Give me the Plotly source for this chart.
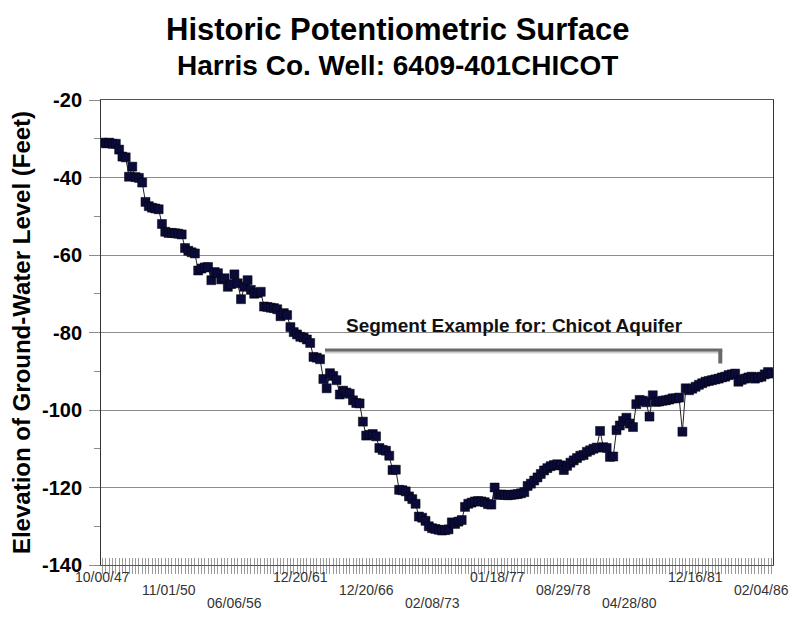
import plotly.graph_objects as go

# ---- data ----
levels = [
    -31.0, -31.2, -31.0, -31.3, -31.3, -32.8, -34.6, -34.8, -39.8, -37.2,
    -39.9, -40.1, -41.3, -46.3, -47.4, -47.8, -48.0, -48.2, -52.0, -54.0,
    -54.3, -54.3, -54.4, -54.5, -54.7, -58.2, -58.9, -59.3, -59.6, -64.0,
    -63.5, -63.2, -63.1, -66.5, -64.4, -64.7, -66.3, -66.0, -68.2, -67.5,
    -65.0, -67.3, -71.4, -68.2, -66.5, -69.0, -70.0, -69.8, -69.5, -73.3,
    -73.4, -73.6, -73.7, -74.0, -75.8, -75.0, -75.5, -78.6, -79.9, -80.5,
    -81.1, -81.3, -81.8, -82.7, -86.3, -86.5, -86.9, -92.0, -94.4, -90.5,
    -91.2, -92.3, -96.0, -95.0, -95.5, -95.8, -97.5, -98.2, -98.3, -103.0,
    -106.6, -106.4, -106.2, -106.8, -109.8, -110.3, -110.5, -111.8, -115.5, -115.4,
    -120.6, -120.7, -121.0, -122.3, -123.0, -124.2, -127.5, -127.8, -128.6, -130.0,
    -130.5, -130.7, -130.9, -131.1, -131.0, -130.8, -129.0, -129.4, -128.8, -128.4,
    -125.0, -124.2, -123.9, -123.6, -123.5, -123.6, -123.8, -124.3, -124.4, -120.0,
    -121.9, -121.8, -121.9, -122.0, -121.9, -121.8, -121.7, -121.5, -121.2, -119.6,
    -119.0, -118.2, -117.4, -116.5, -115.6, -115.0, -114.5, -114.2, -114.0, -114.3,
    -115.5, -114.4, -113.6, -113.0, -112.4, -111.8, -111.6, -110.8, -110.4, -110.0,
    -109.7, -105.4, -109.6, -109.8, -112.1, -112.0, -105.2, -104.0, -102.8, -102.0,
    -103.5, -104.4, -98.5, -97.4, -97.6, -98.0, -101.7, -96.2, -97.9, -97.8,
    -97.6, -97.5, -97.3, -97.0, -97.0, -96.8, -105.6, -94.4, -94.9, -94.5,
    -94.0, -93.5, -93.1, -92.7, -92.5, -92.3, -92.1, -91.9, -91.6, -91.4,
    -91.0, -90.8, -90.6, -92.7, -92.2, -91.9, -91.6, -91.4, -91.9, -91.6,
    -91.4, -90.8, -90.2, -90.6,
]
tick_labels = ["10/00/47", "11/01/50", "06/06/56", "12/20/61", "12/20/66",
               "02/08/73", "01/18/77", "08/29/78", "04/28/80", "12/16/81", "02/04/86"]
label_every = 20
y_ticks = [-140, -120, -100, -80, -60, -40, -20]

idx = list(range(len(levels)))
label_idx = [k * label_every for k in range(len(tick_labels))]

FONT = "Liberation Sans, Arial"

fig = go.Figure()
fig.add_trace(go.Scatter(
    x=idx, y=levels, mode="lines+markers",
    line=dict(color="#222222", width=1),
    marker=dict(symbol="square", size=9, color="#0b0b3b",
                line=dict(color="#000000", width=0.5)),
    showlegend=False, hoverinfo="y",
))

n = len(levels)
xr = [-0.5, n - 0.5]

# staggered category labels (3 rows)
for k, (xi, txt) in enumerate(zip(label_idx, tick_labels)):
    fig.add_annotation(x=xi, xref="x", y=0, yref="paper", text=txt,
                       showarrow=False, xanchor="center", yanchor="middle",
                       yshift=-12 - 13 * (k % 3),
                       font=dict(family=FONT, size=14, color="#333333"))

# segment bracket
seg_x0, seg_x1, seg_y, seg_y_end = 67.5, 187.5, -84.5, -88.0
fig.add_shape(type="line", x0=seg_x0, x1=seg_x1 + 0.6, y0=seg_y - 0.55, y1=seg_y - 0.55,
              xref="x", yref="y", line=dict(color="#cfcfcf", width=3))
fig.add_shape(type="line", x0=seg_x0, x1=seg_x1 + 0.6, y0=seg_y, y1=seg_y,
              xref="x", yref="y", line=dict(color="#6a6a6a", width=3))
fig.add_shape(type="line", x0=seg_x1, x1=seg_x1, y0=seg_y, y1=seg_y_end,
              xref="x", yref="y", line=dict(color="#6a6a6a", width=4))
fig.add_annotation(x=125, xref="x", y=-78.1, yref="y",
                   text="<b>Segment Example for: Chicot Aquifer</b>", showarrow=False,
                   font=dict(family=FONT, size=19, color="#111111"))

# two-line title
fig.add_annotation(x=0.5, xref="paper", y=(565 - 30) / 465, yref="paper",
                   xanchor="center", yanchor="middle", showarrow=False,
                   text="<b>Historic Potentiometric Surface</b>",
                   font=dict(family=FONT, size=31, color="#000000"),
                   xshift=-40)
fig.add_annotation(x=0.5, xref="paper", y=(565 - 65) / 465, yref="paper",
                   xanchor="center", yanchor="middle", showarrow=False,
                   text="<b>Harris Co. Well: 6409-401CHICOT</b>",
                   font=dict(family=FONT, size=28, color="#000000"),
                   xshift=-40)

fig.update_layout(
    width=792, height=627,
    margin=dict(l=101, r=19, t=100, b=62),
    paper_bgcolor="white", plot_bgcolor="white",
    font=dict(family=FONT),
    xaxis=dict(range=xr, showgrid=False, zeroline=False, showticklabels=False,
               tickmode="linear", tick0=0, dtick=1, ticks="outside", ticklen=8,
               tickcolor="#9a9a9a", tickwidth=1,
               showline=True, linecolor="#555555", linewidth=1, mirror=True),
    xaxis2=dict(range=xr, overlaying="x", anchor="y", side="bottom",
                showgrid=False, zeroline=False, showticklabels=False,
                tickmode="linear", tick0=0, dtick=1, ticks="inside", ticklen=7,
                tickcolor="#9a9a9a", tickwidth=1, showline=False),
    yaxis=dict(range=[-140, -20], tickvals=y_ticks,
               ticktext=["<b>%d</b>" % v for v in y_ticks],
               showgrid=True, gridcolor="#8c8c8c", gridwidth=1, zeroline=False,
               ticks="outside", ticklen=11, tickcolor="#8c8c8c",
               minor=dict(dtick=10, tick0=0, ticks="outside", ticklen=6,
                          tickcolor="#8c8c8c", showgrid=False),
               showline=True, linecolor="#333333", linewidth=1, mirror=True,
               tickfont=dict(family=FONT, size=20, color="#000000"),
               ticklabelstandoff=3,
               title=dict(text="<b>Elevation of Ground-Water Level (Feet)</b>",
                          font=dict(family=FONT, size=24, color="#000000"),
                          standoff=4)),
)
# invisible trace so xaxis2 is drawn
fig.add_trace(go.Scatter(x=[0], y=[-140], xaxis="x2", yaxis="y", mode="markers",
                         marker=dict(opacity=0), showlegend=False, hoverinfo="skip"))

fig.write_html("out.html", post_script="document.body.style.margin='0px';",
               config={"displayModeBar": False})
